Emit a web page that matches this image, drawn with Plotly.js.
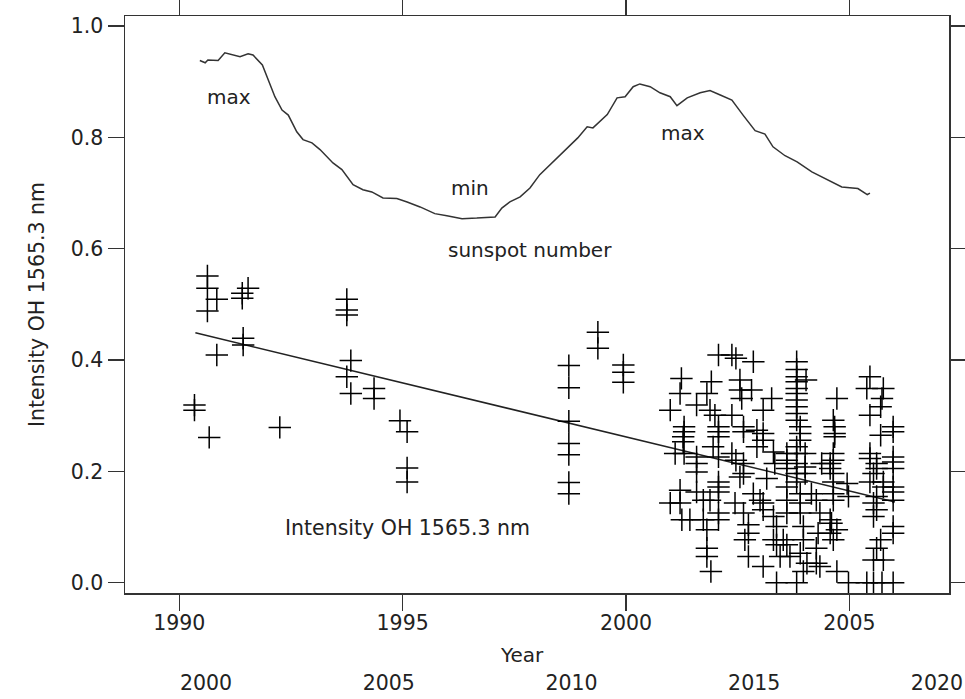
<!DOCTYPE html>
<html>
<head>
<meta charset="utf-8">
<script src="https://cdn.plot.ly/plotly-3.0.1.min.js"></script>
<style>html,body{margin:0;padding:0;background:#fff;}#chart{width:965px;height:699px;}</style>
</head>
<body>
<div id="chart"></div>
<script>
// Sunspot number curve (scaled onto the intensity axis)
var sunspotYears = [1990.46,1990.58,1990.64,1990.87,1991.02,1991.20,1991.36,1991.54,1991.65,1991.86,1991.99,1992.14,1992.30,1992.44,1992.63,1992.77,1992.97,1993.15,1993.44,1993.64,1993.89,1994.11,1994.31,1994.56,1994.87,1995.10,1995.39,1995.72,1995.99,1996.33,1996.66,1997.07,1997.22,1997.40,1997.63,1997.85,1998.07,1998.36,1998.70,1998.92,1999.13,1999.26,1999.58,1999.80,1999.98,2000.16,2000.31,2000.54,2000.76,2000.99,2001.14,2001.37,2001.66,2001.88,2002.11,2002.37,2002.62,2002.89,2003.11,2003.29,2003.56,2003.83,2004.16,2004.52,2004.83,2005.19,2005.40,2005.46];
var sunspotValues = [0.938,0.934,0.939,0.938,0.952,0.948,0.945,0.950,0.948,0.930,0.903,0.873,0.849,0.840,0.810,0.796,0.790,0.778,0.754,0.742,0.715,0.706,0.702,0.691,0.690,0.684,0.675,0.663,0.659,0.654,0.655,0.657,0.673,0.684,0.693,0.709,0.733,0.756,0.783,0.799,0.819,0.817,0.841,0.871,0.873,0.891,0.896,0.891,0.880,0.873,0.857,0.871,0.880,0.884,0.876,0.867,0.840,0.812,0.806,0.783,0.767,0.756,0.738,0.724,0.711,0.708,0.697,0.700];

// OH 1565.3 nm intensity measurements
var ohYears = [
 1990.63,1990.63,1990.84,1990.63,1991.41,1991.41,1991.54,1991.43,1991.43,1990.84,1990.34,1990.34,1990.67,1992.25,
 1993.75,1993.75,1993.75,1993.84,1993.75,1993.84,1994.36,1994.36,
 1994.94,1995.10,1995.10,1995.10,
 1998.72,1998.72,1998.72,1998.72,1998.72,1998.72,1998.72,
 1999.37,1999.37,1999.94,1999.94,1999.94,
 2002.07,2002.37,2002.46,2002.85,2004.03,2005.46,2005.39,2005.76,
 2001.24,2001.91,2001.21,2001.81,2002.55,2002.55,2002.81,2002.59,2003.26,2004.72,
 2000.99,2001.58,2001.88,2001.99,2002.37,2003.07,2005.73,2005.70,2005.46,
 2002.07,2002.07,2002.07,2001.30,2001.30,2001.28,2001.28,
 2004.64,2004.67,2004.67,2004.67,2002.63,2002.63,2002.93,2003.07,2003.07,
 2005.98,2005.98,2005.70,2003.90,2003.90,2003.90,
 2001.10,2001.30,2001.58,2001.58,2001.58,2001.95,2002.07,
 2002.37,2002.46,2002.63,2002.63,2002.93,2003.30,2003.33,
 2003.60,2003.60,2003.60,
 2003.82,2003.82,2003.82,2003.82,2003.82,2003.82,2003.82,2003.82,2003.82,2003.82,2003.82,2003.82,2003.82,2003.82,2003.82,
 2004.01,2004.01,2004.01,
 2004.57,2004.57,2004.64,2004.64,2004.64,2004.64,2004.64,2004.64,2004.38,
 2005.46,2005.46,2005.61,2005.61,2005.54,2005.46,2005.76,2005.76,
 2005.98,2005.98,2005.98,2005.98,2005.98,2005.98,
 2004.95,2004.98,2000.99,2001.21,
 2002.07,2002.07,2002.07,2001.58,2001.73,2001.88,
 2002.07,2002.07,2001.25,2001.43,2001.73,
 2001.81,2001.81,2001.81,2001.90,
 2002.44,2002.63,2002.74,2002.74,2002.66,
 2002.85,2003.00,2003.07,2003.07,2003.30,2003.37,2003.30,2003.37,2003.45,
 2002.74,2003.07,2003.37,2003.82,
 2003.60,2003.60,2003.60,2003.52,2003.60,2003.67,
 2003.90,2003.90,2003.90,2003.97,2003.97,2003.90,2004.05,2003.97,
 2004.26,2004.34,2004.30,2004.26,2004.26,2004.34,
 2004.57,2004.57,2004.64,2004.72,
 2004.98,2005.98,2005.98,
 2005.70,2005.61,2005.54,2005.76,
 2005.39,2005.54,2005.73,2005.98,
 2005.61,2005.54,2005.61,2005.54,
 2004.60,2004.72,2001.21,2002.55,2003.15,2004.15
];
var ohValues = [
 0.551,0.529,0.509,0.488,0.520,0.511,0.529,0.439,0.427,0.409,0.319,0.310,0.261,0.279,
 0.509,0.490,0.481,0.399,0.370,0.340,0.349,0.331,
 0.291,0.271,0.206,0.181,
 0.390,0.350,0.290,0.250,0.230,0.180,0.160,
 0.450,0.421,0.391,0.378,0.360,
 0.409,0.409,0.403,0.397,0.364,0.370,0.349,0.349,
 0.367,0.361,0.340,0.340,0.364,0.346,0.346,0.331,0.331,0.331,
 0.310,0.319,0.310,0.301,0.301,0.310,0.331,0.316,0.301,
 0.280,0.271,0.262,0.280,0.271,0.262,0.253,
 0.292,0.280,0.268,0.262,0.280,0.271,0.274,0.268,0.256,
 0.280,0.271,0.265,0.280,0.268,0.256,
 0.232,0.232,0.226,0.214,0.199,0.244,0.226,
 0.232,0.220,0.214,0.196,0.244,0.235,0.214,
 0.232,0.220,0.205,
 0.397,0.383,0.370,0.361,0.349,0.340,0.328,0.316,0.304,0.292,0.244,0.232,0.214,0.196,0.181,
 0.232,0.208,0.196,
 0.214,0.205,0.232,0.220,0.196,0.181,0.160,0.148,0.214,
 0.232,0.223,0.214,0.205,0.196,0.181,0.181,0.172,
 0.226,0.217,0.205,0.172,0.163,0.148,
 0.178,0.155,0.143,0.143,
 0.181,0.172,0.163,0.163,0.148,0.148,
 0.125,0.113,0.113,0.113,0.113,
 0.095,0.062,0.047,0.020,
 0.143,0.125,0.104,0.089,0.077,
 0.160,0.148,0.143,0.131,0.119,0.101,0.077,0.068,0.047,
 0.047,0.029,0.000,0.000,
 0.172,0.148,0.125,0.077,0.068,0.047,
 0.160,0.143,0.125,0.101,0.077,0.053,0.035,0.020,
 0.148,0.125,0.089,0.062,0.035,0.029,
 0.113,0.089,0.077,0.020,
 0.000,0.101,0.089,
 0.077,0.062,0.041,0.041,
 0.000,0.000,0.000,0.000,
 0.155,0.143,0.131,0.119,
 0.107,0.095,0.166,0.190,0.187,0.160
];

// Linear trend line end points
var trendYears = [1990.36, 2006.02];
var trendValues = [0.449, 0.145];

// Tick labels
var yearTicks = [1990, 1995, 2000, 2005];
var secondYearTicks = [2000, 2005, 2010, 2015, 2020];
var valueTicks = [0, 0.2, 0.4, 0.6, 0.8, 1.0];

var FONT = 'DejaVu Sans, Verdana, sans-serif';
var TXT = '#222';

var traces = [
  {x: sunspotYears, y: sunspotValues, type: 'scatter', mode: 'lines',
   line: {color: '#333', width: 1.5}, hoverinfo: 'skip', showlegend: false},
  {x: trendYears, y: trendValues, type: 'scatter', mode: 'lines',
   line: {color: '#222', width: 1.5}, hoverinfo: 'skip', showlegend: false},
  {x: ohYears, y: ohValues, type: 'scatter', mode: 'markers',
   marker: {symbol: 'cross-thin-open', size: 16, color: '#000', line: {color: '#000', width: 1.5}},
   showlegend: false},
  {x: secondYearTicks, y: secondYearTicks.map(function(){return null;}), xaxis: 'x2', type: 'scatter', mode: 'markers',
   marker: {opacity: 0}, showlegend: false, hoverinfo: 'skip'}
];

var layout = {
  width: 965, height: 699,
  margin: {l: 125, r: 16, t: 16, b: 106},
  paper_bgcolor: '#fff', plot_bgcolor: '#fff',
  font: {family: FONT, size: 20, color: TXT},
  xaxis: {
    range: [1988.785, 2007.23], tickvals: yearTicks, ticktext: yearTicks.map(String),
    ticks: 'outside', ticklen: 16, tickwidth: 1.5, tickcolor: '#333',
    showline: true, linecolor: '#333', linewidth: 1.5, mirror: 'ticks',
    showgrid: false, zeroline: false, ticklabelstandoff: -5,
    tickfont: {family: FONT, size: 20.5, color: TXT}
  },
  xaxis2: {
    overlaying: 'x', anchor: 'y', side: 'bottom',
    range: [1997.784, 2020.33], tickvals: secondYearTicks, ticktext: secondYearTicks.map(String),
    ticks: '', showline: false, showgrid: false, zeroline: false,
    ticklabelstandoff: 75,
    tickfont: {family: FONT, size: 20.5, color: TXT}
  },
  yaxis: {
    range: [-0.0185, 1.018], tickvals: valueTicks, tickformat: '.1f',
    ticks: 'outside', ticklen: 16, tickwidth: 1.5, tickcolor: '#333',
    showline: true, linecolor: '#333', linewidth: 1.5, mirror: 'ticks',
    showgrid: false, zeroline: false,
    tickfont: {family: FONT, size: 20.5, color: TXT},
    title: {text: 'Intensity OH 1565.3 nm', font: {family: FONT, size: 20.5, color: TXT}, standoff: 20}
  },
  annotations: [
    {x: 1991.11, y: 0.873, xref: 'x', yref: 'y', text: 'max', showarrow: false, font: {family: FONT, size: 20, color: TXT}},
    {x: 1996.51, y: 0.709, xref: 'x', yref: 'y', text: 'min', showarrow: false, font: {family: FONT, size: 20, color: TXT}},
    {x: 2001.28, y: 0.807, xref: 'x', yref: 'y', text: 'max', showarrow: false, font: {family: FONT, size: 20, color: TXT}},
    {x: 1997.85, y: 0.598, xref: 'x', yref: 'y', text: 'sunspot number', showarrow: false, font: {family: FONT, size: 20, color: TXT}},
    {x: 1995.10, y: 0.098, xref: 'x', yref: 'y', text: 'Intensity OH 1565.3 nm', showarrow: false, font: {family: FONT, size: 20.5, color: TXT}},
    {x: 0.4818, y: -0.1075, xref: 'paper', yref: 'paper', xanchor: 'center', yanchor: 'middle', text: 'Year', showarrow: false, font: {family: FONT, size: 20, color: TXT}}
  ]
};

Plotly.newPlot('chart', traces, layout, {displayModeBar: false, staticPlot: true});
</script>
</body>
</html>
